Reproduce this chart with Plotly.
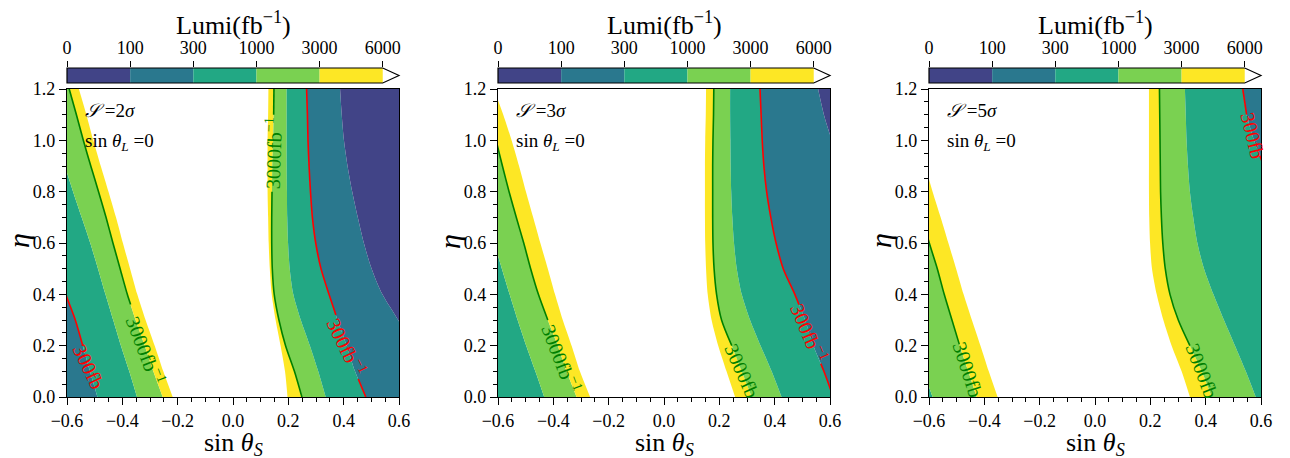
import numpy as np
import plotly.graph_objects as go

# ---------------- data ----------------
ETA = [0.0, 0.1, 0.2, 0.3, 0.4, 0.5, 0.6, 0.7, 0.8, 0.9, 1.0, 1.1, 1.2]
LEVELS = [0, 100, 300, 1000, 3000, 6000]
BAND_COLORS = ["#414487", "#2a788e", "#22a884", "#7ad151", "#fde725"]
X_TICKS = [-0.6, -0.4, -0.2, 0.0, 0.2, 0.4, 0.6]
Y_TICKS = [0.0, 0.2, 0.4, 0.6, 0.8, 1.0, 1.2]
SIGMAS = [2, 3, 5]

# contour positions (sin theta_S) at each ETA value; panel 1: S = 2 sigma
P1_L300 = [-0.490, -0.517, -0.543, -0.570, -0.604, -0.630, -0.657, -0.684, -0.710, -0.740, -0.760, -0.790, -0.820]
P1_L1000 = [-0.347, -0.375, -0.405, -0.433, -0.461, -0.488, -0.516, -0.547, -0.578, -0.608, -0.640, -0.670, -0.700]
P1_L3000 = [-0.254, -0.288, -0.319, -0.352, -0.382, -0.408, -0.434, -0.459, -0.486, -0.514, -0.541, -0.566, -0.592]
P1_L6000 = [-0.218, -0.252, -0.283, -0.316, -0.346, -0.372, -0.398, -0.423, -0.450, -0.478, -0.505, -0.530, -0.557]
P1_R6000 = [0.197, 0.188, 0.172, 0.154, 0.140, 0.133, 0.129, 0.127, 0.125, 0.125, 0.125, 0.127, 0.128]
P1_R3000 = [0.249, 0.222, 0.190, 0.166, 0.149, 0.142, 0.140, 0.140, 0.141, 0.142, 0.145, 0.147, 0.148]
P1_R1000 = [0.335, 0.308, 0.278, 0.245, 0.218, 0.205, 0.199, 0.196, 0.195, 0.194, 0.194, 0.194, 0.194]
P1_R300 = [0.480, 0.441, 0.411, 0.378, 0.347, 0.318, 0.299, 0.287, 0.280, 0.275, 0.271, 0.269, 0.266]
P1_R100 = [0.750, 0.700, 0.650, 0.597, 0.540, 0.501, 0.473, 0.451, 0.431, 0.414, 0.401, 0.393, 0.387]

# panel 2: S = 3 sigma
P2_L1000 = [-0.433, -0.465, -0.498, -0.529, -0.558, -0.586, -0.614, -0.642, -0.670, -0.698, -0.725, -0.753, -0.781]
P2_L3000 = [-0.316, -0.352, -0.384, -0.420, -0.454, -0.482, -0.507, -0.534, -0.560, -0.584, -0.607, -0.629, -0.653]
P2_L6000 = [-0.267, -0.304, -0.334, -0.366, -0.394, -0.420, -0.447, -0.473, -0.499, -0.524, -0.551, -0.581, -0.615]
P2_R6000 = [0.257, 0.226, 0.196, 0.172, 0.158, 0.152, 0.149, 0.148, 0.148, 0.148, 0.149, 0.151, 0.152]
P2_R3000 = [0.317, 0.281, 0.245, 0.208, 0.190, 0.181, 0.177, 0.176, 0.176, 0.176, 0.177, 0.179, 0.180]
P2_R1000 = [0.425, 0.389, 0.349, 0.311, 0.281, 0.263, 0.253, 0.247, 0.243, 0.241, 0.240, 0.239, 0.239]
P2_R300 = [0.612, 0.578, 0.540, 0.510, 0.473, 0.431, 0.405, 0.386, 0.371, 0.361, 0.355, 0.351, 0.347]
P2_R100 = [0.970, 0.930, 0.890, 0.850, 0.810, 0.770, 0.730, 0.690, 0.655, 0.630, 0.606, 0.578, 0.557]

# panel 3: S = 5 sigma
P3_L1000 = [-0.587, -0.620, -0.650, -0.680, -0.710, -0.740, -0.770, -0.800, -0.830, -0.860, -0.890, -0.920, -0.950]
P3_L3000 = [-0.428, -0.458, -0.489, -0.517, -0.545, -0.570, -0.599, -0.625, -0.652, -0.678, -0.705, -0.731, -0.758]
P3_L6000 = [-0.352, -0.384, -0.414, -0.445, -0.475, -0.502, -0.530, -0.558, -0.587, -0.614, -0.643, -0.671, -0.699]
P3_R6000 = [0.343, 0.313, 0.277, 0.247, 0.223, 0.206, 0.199, 0.196, 0.195, 0.195, 0.195, 0.195, 0.195]
P3_R3000 = [0.422, 0.386, 0.343, 0.301, 0.271, 0.254, 0.245, 0.240, 0.237, 0.236, 0.235, 0.234, 0.233]
P3_R1000 = [0.581, 0.545, 0.506, 0.466, 0.428, 0.394, 0.370, 0.355, 0.343, 0.336, 0.331, 0.328, 0.325]
P3_R300 = [0.970, 0.930, 0.890, 0.850, 0.810, 0.770, 0.730, 0.690, 0.650, 0.610, 0.575, 0.548, 0.534]

# ---------------- layout constants ----------------
W, H = 1290, 458
PAGE_OFFSET = 8            # default body margin of the html page
FONT = "Liberation Serif"
PANEL_PX = [(67, 399), (498, 830), (929, 1261)]
PLOT_Y_PX = (89, 397)
CBAR_Y_PX = (68, 83)
CBAR_FRAC = 0.951          # coloured part of the colourbar (rest is the extend arrow)
X_RANGE = [-0.6, 0.6]
Y_RANGE = [0.0, 1.2]
LINE_COLORS = {300: "#ff0000", 3000: "#008000"}

PANELS = [
    dict(left=[(300, P1_L300), (1000, P1_L1000), (3000, P1_L3000), (6000, P1_L6000)],
         right=[(6000, P1_R6000), (3000, P1_R3000), (1000, P1_R1000), (300, P1_R300), (100, P1_R100)],
         labels=[(P1_L3000, 3000, (0.0, 0.36), 0.18, "3000fb<sup>−1</sup>", 69),
                 (P1_L300, 300, (0.0, 0.20), 0.117, "300fb", 64),
                 (P1_R3000, 3000, (0.80, 1.10), 0.95, "3000fb<sup>−1</sup>", -88),
                 (P1_R300, 300, (0.07, 0.32), 0.195, "300fb<sup>−1</sup>", 64)]),
    dict(left=[(1000, P2_L1000), (3000, P2_L3000), (6000, P2_L6000)],
         right=[(6000, P2_R6000), (3000, P2_R3000), (1000, P2_R1000), (300, P2_R300), (100, P2_R100)],
         labels=[(P2_L3000, 3000, (0.0, 0.30), 0.15, "3000fb<sup>−1</sup>", 69),
                 (P2_R3000, 3000, (0.0, 0.20), 0.10, "3000fb", 66),
                 (P2_R300, 300, (0.13, 0.36), 0.248, "300fb<sup>−1</sup>", 67)]),
    dict(left=[(1000, P3_L1000), (3000, P3_L3000), (6000, P3_L6000)],
         right=[(6000, P3_R6000), (3000, P3_R3000), (1000, P3_R1000), (300, P3_R300)],
         labels=[(P3_L3000, 3000, (0.0, 0.205), 0.105, "3000fb", 72),
                 (P3_R3000, 3000, (0.0, 0.20), 0.10, "3000fb", 69),
                 (P3_R300, 300, (0.94, 1.10), 1.017, "300fb", 76)]),
]


def band_color(level):
    return BAND_COLORS[LEVELS.index(level) - 1]


def px2x(px):
    return (px - PAGE_OFFSET) / W


def py2y(py):
    return 1 - (py - PAGE_OFFSET) / H


def line_with_gap(xs, gap):
    lo, hi = gap
    X, Y = [], []
    for e, x in zip(ETA, xs):
        if e < lo:
            X.append(x); Y.append(e)
    if lo > ETA[0]:
        X.append(float(np.interp(lo, ETA, xs))); Y.append(lo)
    X.append(None); Y.append(None)
    if hi < ETA[-1]:
        X.append(float(np.interp(hi, ETA, xs))); Y.append(hi)
    for e, x in zip(ETA, xs):
        if e > hi:
            X.append(x); Y.append(e)
    return X, Y


fig = go.Figure()
layout = dict(template="none", width=W, height=H, margin=dict(l=0, r=0, t=0, b=0, pad=0),
              paper_bgcolor="white", plot_bgcolor="white", showlegend=False,
              barmode="overlay", font=dict(family=FONT, color="black"))
annotations = []
shapes = []

for i, (panel, (pl, pr), sig) in enumerate(zip(PANELS, PANEL_PX, SIGMAS)):
    n = i + 1
    xa, ya = ("x" if n == 1 else f"x{n}"), ("y" if n == 1 else f"y{n}")
    cxa, cya = f"x{n + 3}", f"y{n + 3}"
    dom_x = [px2x(pl), px2x(pr)]

    def add(xs, fill="none", color=None):
        fig.add_trace(go.Scatter(x=xs, y=ETA, mode="lines", xaxis=xa, yaxis=ya,
                                 line=dict(width=0, shape="spline", smoothing=0.8),
                                 fill=fill, fillcolor=color, hoverinfo="skip"))

    # left group of filled bands
    add([X_RANGE[0]] * len(ETA))
    for lvl, xs in panel["left"]:
        add(xs, "tonextx", band_color(lvl))
    # right group of filled bands
    add(panel["right"][0][1])
    for (plvl, _), (lvl, xs) in zip(panel["right"][:-1], panel["right"][1:]):
        add(xs, "tonextx", band_color(plvl))
    add([X_RANGE[1]] * len(ETA), "tonextx", band_color(panel["right"][-1][0]))

    # contour lines with inline labels
    for xs, lvl, gap, center, text, ang in panel["labels"]:
        X, Y = line_with_gap(xs, gap)
        fig.add_trace(go.Scatter(x=X, y=Y, mode="lines", xaxis=xa, yaxis=ya,
                                 line=dict(color=LINE_COLORS[lvl], width=1.6, shape="spline", smoothing=0.8),
                                 connectgaps=False, hoverinfo="skip"))
        annotations.append(dict(x=float(np.interp(center, ETA, xs)), y=center, xref=xa, yref=ya,
                                text=text, showarrow=False, textangle=ang,
                                xanchor="center", yanchor="middle",
                                font=dict(size=20, color=LINE_COLORS[lvl], family=FONT)))

    axis_common = dict(showline=True, linecolor="black", linewidth=1.2, mirror=True,
                       ticks="outside", ticklen=7, tickwidth=1.2, tickcolor="black",
                       showgrid=False, zeroline=False, automargin=False,
                       tickfont=dict(size=18, family=FONT, color="black"),
                       minor=dict(ticks="outside", ticklen=3.5, tickwidth=1, tickcolor="black",
                                  dtick=0.05, showgrid=False))
    layout["xaxis" if n == 1 else f"xaxis{n}"] = dict(
        axis_common, domain=dom_x, range=X_RANGE, anchor=ya, tickvals=X_TICKS, tickformat=".1f")
    layout["yaxis" if n == 1 else f"yaxis{n}"] = dict(
        axis_common, domain=[py2y(PLOT_Y_PX[1]), py2y(PLOT_Y_PX[0])], range=Y_RANGE, anchor=xa,
        tickvals=Y_TICKS, tickformat=".1f")

    # colour bar
    nb = len(BAND_COLORS)
    fig.add_trace(go.Bar(y=[0.5] * nb, x=[1] * nb, base=list(range(nb)), orientation="h", width=1,
                         marker=dict(color=BAND_COLORS, line=dict(width=0)),
                         xaxis=cxa, yaxis=cya, hoverinfo="skip"))
    layout[f"xaxis{n + 3}"] = dict(domain=dom_x, range=[0, nb / CBAR_FRAC], anchor=cya, side="top",
                                   tickvals=list(range(len(LEVELS))), ticktext=[str(v) for v in LEVELS],
                                   ticks="outside", ticklen=6, tickwidth=1.2, tickcolor="black",
                                   showgrid=False, zeroline=False, showline=False, automargin=False,
                                   tickfont=dict(size=18, family=FONT, color="black"))
    layout[f"yaxis{n + 3}"] = dict(domain=[py2y(CBAR_Y_PX[1]), py2y(CBAR_Y_PX[0])], range=[0, 1],
                                   anchor=cxa, visible=False, automargin=False)
    x0, x1 = dom_x
    xe = x0 + (x1 - x0) * CBAR_FRAC
    yb, yt = py2y(CBAR_Y_PX[1]), py2y(CBAR_Y_PX[0])
    shapes.append(dict(type="path", xref="paper", yref="paper",
                       path=f"M {x0} {yb} L {xe} {yb} L {x1} {(yb + yt) / 2} L {xe} {yt} L {x0} {yt} Z",
                       line=dict(color="black", width=1.2)))

    # titles and texts
    xc = (x0 + x1) / 2
    centered = dict(xref="paper", yref="paper", showarrow=False, xanchor="center", yanchor="middle")
    annotations.append(dict(centered, x=xc, y=py2y(23), text="Lumi(fb<sup>−1</sup>)",
                            font=dict(size=26, family=FONT)))
    annotations.append(dict(centered, x=xc, y=py2y(444), text="sin <i>θ</i><sub><i>S</i></sub>",
                            font=dict(size=26, family=FONT)))
    annotations.append(dict(centered, x=px2x(pl - 49), y=py2y(241), text="<i>η</i>", textangle=-90,
                            font=dict(size=30, family=FONT)))
    annotations.append(dict(x=0.048, y=0.929, xref=f"{xa} domain", yref=f"{ya} domain", showarrow=False,
                            xanchor="left", yanchor="middle",
                            text="<i>𝒮</i>\u00a0=" + str(sig) + "<i>σ</i>",
                            font=dict(size=19, family=FONT)))
    annotations.append(dict(x=0.048, y=0.828, xref=f"{xa} domain", yref=f"{ya} domain", showarrow=False,
                            xanchor="left", yanchor="middle",
                            text="sin <i>θ</i><sub><i>L</i></sub>\u00a0=0",
                            font=dict(size=19, family=FONT)))

layout["annotations"] = annotations
layout["shapes"] = shapes
fig.update_layout(**layout)
fig.write_html("out.html")
